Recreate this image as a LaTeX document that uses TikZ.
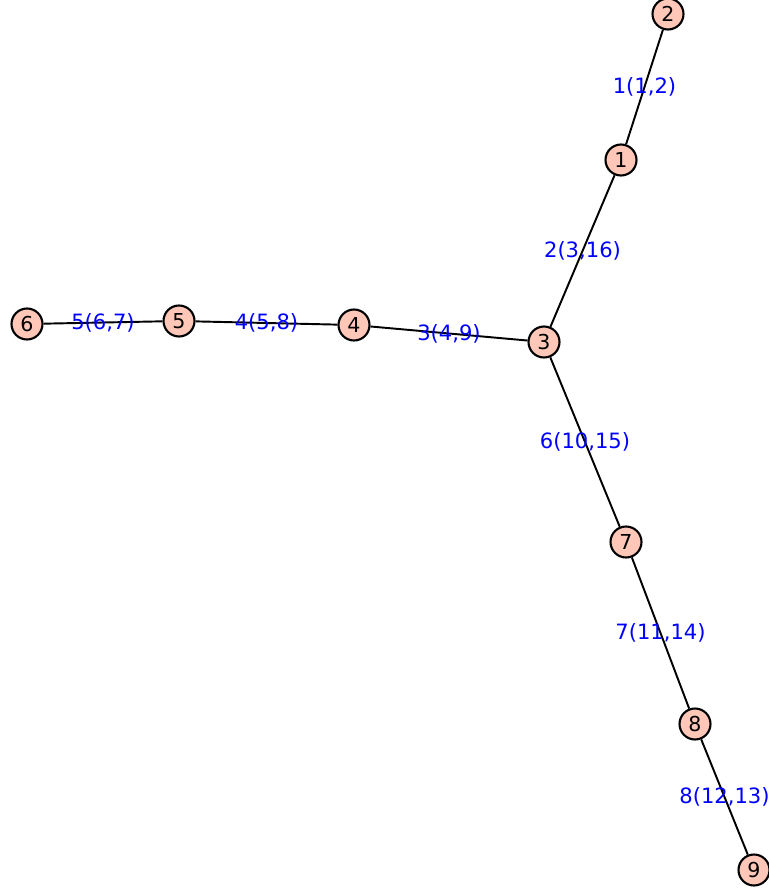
\documentclass[tikz,border=0pt]{standalone}
\usepackage{fontspec}
\setmainfont{DejaVu Sans}
\usepackage{tikz}
\definecolor{vertexfill}{HTML}{FEC7B8}

\begin{document}
\begin{tikzpicture}[x=0.02cm, y=-0.02cm,
  vertex/.style={circle, draw=black, line width=1.2pt, fill=vertexfill,
    minimum size=0.62cm, inner sep=0pt, font=\fontsize{11.7}{13}\selectfont},
  elabel/.style={text=blue, inner sep=0pt, font=\fontsize{12}{14}\selectfont}]
\useasboundingbox (0,0) rectangle (768,892);

% Vertices
\foreach \n/\x/\y in {2/668/14, 1/621/160, 3/544/342, 4/354/325, 5/179/321,
  6/27/324, 7/626/542, 8/695/724, 9/754/870}{
  \node[vertex] (v\n) at (\x,\y) {\n};
}

% Edges with their labels
\foreach \a/\b/\lab in {2/1/{1(1,2)}, 1/3/{2(3,16)}, 4/3/{3(4,9)}, 5/4/{4(5,8)},
  6/5/{5(6,7)}, 3/7/{6(10,15)}, 7/8/{7(11,14)}, 8/9/{8(12,13)}}{
  \draw[line width=1.1pt] (v\a) -- node[elabel] {\lab} (v\b);
}
\end{tikzpicture}
\end{document}
